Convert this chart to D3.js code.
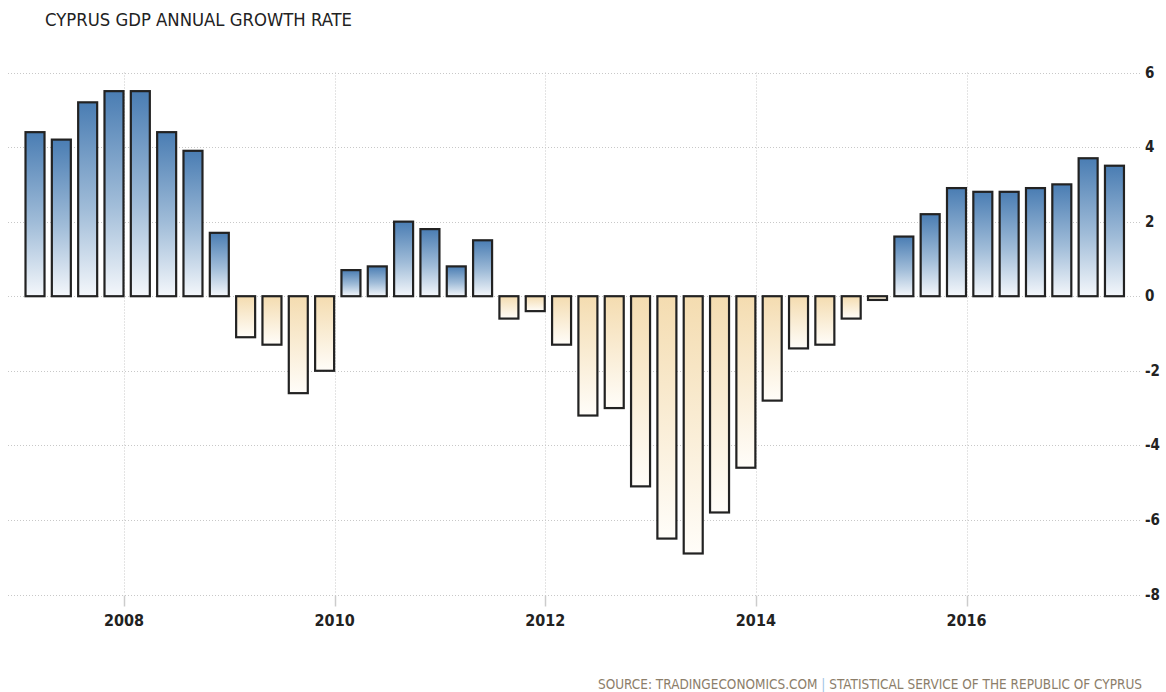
<!DOCTYPE html>
<html>
<head>
<meta charset="utf-8">
<script src="https://cdn.jsdelivr.net/npm/d3@7"></script>
<style>
  html, body { margin: 0; padding: 0; background: #fff; }
  svg { display: block; }
  .cond { font-family: "Liberation Sans Narrow", "DejaVu Sans Condensed", "Arial Narrow", sans-serif; }
</style>
</head>
<body>
<svg id="chart" width="1166" height="692"></svg>
<script>
// ---- data ----
const title = "CYPRUS GDP ANNUAL GROWTH RATE";
const quarters = [
  "2007Q1","2007Q2","2007Q3","2007Q4",
  "2008Q1","2008Q2","2008Q3","2008Q4",
  "2009Q1","2009Q2","2009Q3","2009Q4",
  "2010Q1","2010Q2","2010Q3","2010Q4",
  "2011Q1","2011Q2","2011Q3","2011Q4",
  "2012Q1","2012Q2","2012Q3","2012Q4",
  "2013Q1","2013Q2","2013Q3","2013Q4",
  "2014Q1","2014Q2","2014Q3","2014Q4",
  "2015Q1","2015Q2","2015Q3","2015Q4",
  "2016Q1","2016Q2","2016Q3","2016Q4",
  "2017Q1","2017Q2"
];
const growth = [
  4.4, 4.2, 5.2, 5.5,
  5.5, 4.4, 3.9, 1.7,
  -1.1, -1.3, -2.6, -2.0,
  0.7, 0.8, 2.0, 1.8,
  0.8, 1.5, -0.6, -0.4,
  -1.3, -3.2, -3.0, -5.1,
  -6.5, -6.9, -5.8, -4.6,
  -2.8, -1.4, -1.3, -0.6,
  -0.1, 1.6, 2.2, 2.9,
  2.8, 2.8, 2.9, 3.0,
  3.7, 3.5
];
const xTickYears = [2008, 2010, 2012, 2014, 2016];
const yTicks = [6, 4, 2, 0, -2, -4, -6, -8];
const sourceMain = "SOURCE: TRADINGECONOMICS.COM";
const sourceSep = " | ";
const sourceOrg = "STATISTICAL SERVICE OF THE REPUBLIC OF CYPRUS";

// ---- layout ----
const svg = d3.select("#chart");
const plotLeft = 8, plotRight = 1141, plotTop = 72.5, plotBottom = 594.5;

// fractional-year position of each quarterly bar
const qPos = q => +q.slice(0, 4) + (+q.slice(5) - 1) / 4 + 0.155;

const x = d3.scaleLinear().domain([2008, 2016]).range([124, 966.5]);
const y = d3.scaleLinear().domain([-8, 6]).range([plotBottom, plotTop]);
const barW = 19;

// gradients
const defs = svg.append("defs");
const gPos = defs.append("linearGradient").attr("id", "gPos")
  .attr("x1", 0).attr("y1", 0).attr("x2", 0).attr("y2", 1);
gPos.append("stop").attr("offset", "0%").attr("stop-color", "#4a7db3");
gPos.append("stop").attr("offset", "55%").attr("stop-color", "#a0bcd8");
gPos.append("stop").attr("offset", "100%").attr("stop-color", "#f4f7fb");
const gNeg = defs.append("linearGradient").attr("id", "gNeg")
  .attr("x1", 0).attr("y1", 0).attr("x2", 0).attr("y2", 1);
gNeg.append("stop").attr("offset", "0%").attr("stop-color", "#f4dcb0");
gNeg.append("stop").attr("offset", "100%").attr("stop-color", "#fffdf9");

// horizontal gridlines
svg.append("g").selectAll("line").data(yTicks).join("line")
  .attr("x1", plotLeft).attr("x2", plotRight)
  .attr("y1", d => Math.round(y(d)) + 0.5).attr("y2", d => Math.round(y(d)) + 0.5)
  .attr("stroke", "#c8c8c8").attr("stroke-width", 1).attr("stroke-dasharray", "1,2");

// vertical gridlines
svg.append("g").selectAll("line").data(xTickYears).join("line")
  .attr("x1", d => Math.round(x(d)) + 0.5).attr("x2", d => Math.round(x(d)) + 0.5)
  .attr("y1", plotTop).attr("y2", plotBottom)
  .attr("stroke", "#c8c8c8").attr("stroke-width", 1).attr("stroke-dasharray", "1,2");

// x tick marks
svg.append("g").selectAll("line").data(xTickYears).join("line")
  .attr("x1", d => Math.round(x(d)) + 0.5).attr("x2", d => Math.round(x(d)) + 0.5)
  .attr("y1", plotBottom + 1).attr("y2", plotBottom + 12)
  .attr("stroke", "#cccccc").attr("stroke-width", 1.5);

// bars
const bars = quarters.map((q, i) => ({ q, v: growth[i] }));
svg.append("g").selectAll("rect").data(bars).join("rect")
  .attr("x", d => x(qPos(d.q)) - barW / 2)
  .attr("y", d => d.v >= 0 ? y(d.v) : y(0))
  .attr("width", barW)
  .attr("height", d => Math.abs(y(d.v) - y(0)))
  .attr("fill", d => d.v >= 0 ? "url(#gPos)" : "url(#gNeg)")
  .attr("stroke", "#222")
  .attr("stroke-width", 2.2);

// x labels
svg.append("g").selectAll("text").data(xTickYears).join("text")
  .attr("class", "cond")
  .attr("x", d => x(d)).attr("y", 626)
  .attr("text-anchor", "middle")
  .attr("font-size", 16).attr("font-weight", "bold").attr("fill", "#222")
  .text(d => d);

// y labels
svg.append("g").selectAll("text").data(yTicks).join("text")
  .attr("class", "cond")
  .attr("x", 1145).attr("y", d => y(d) + 5)
  .attr("text-anchor", "start")
  .attr("font-size", 15).attr("font-weight", "bold").attr("fill", "#222")
  .text(d => d);

// title
svg.append("text").attr("class", "cond")
  .attr("x", 45).attr("y", 26)
  .attr("font-size", 18).attr("fill", "#222")
  .attr("textLength", 307).attr("lengthAdjust", "spacingAndGlyphs")
  .text(title);

// source
const src = svg.append("text").attr("class", "cond")
  .attr("x", 598).attr("y", 689)
  .attr("font-size", 13.5)
  .attr("textLength", 544).attr("lengthAdjust", "spacingAndGlyphs");
src.append("tspan").attr("fill", "#8c7e6a").text(sourceMain);
src.append("tspan").attr("fill", "#9ec3e6").text(sourceSep);
src.append("tspan").attr("fill", "#8c7e6a").text(sourceOrg);
</script>
</body>
</html>
